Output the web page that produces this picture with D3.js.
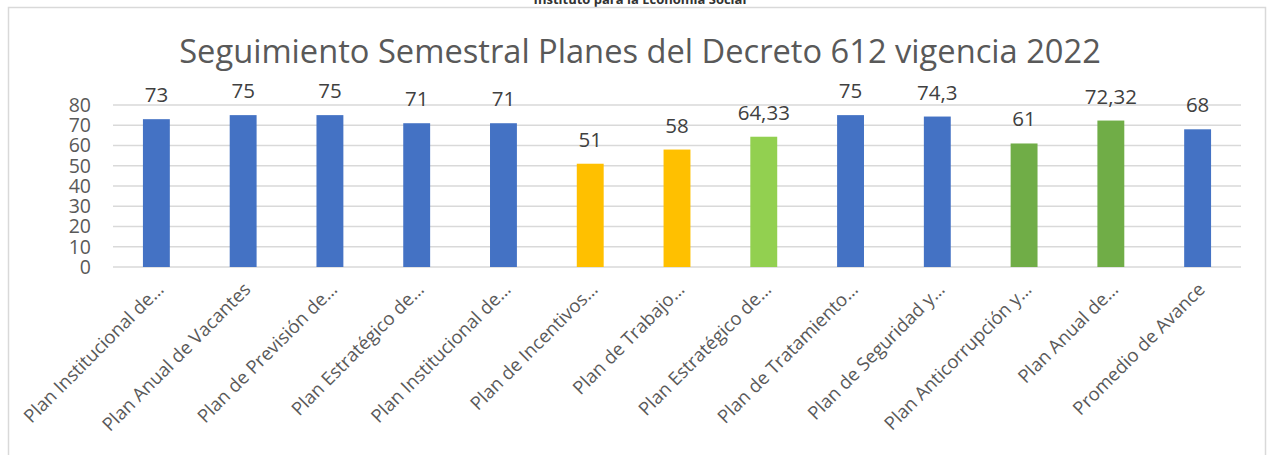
<!DOCTYPE html>
<html>
<head>
<meta charset="utf-8">
<script src="https://cdn.jsdelivr.net/npm/d3@7"></script>
<style>
  body { margin: 0; background: #fff; }
  svg { display: block; }
</style>
</head>
<body>
<svg id="chart" width="1273" height="455"></svg>
<script>
// data
var planes = [
  "Plan Institucional de…",
  "Plan Anual de Vacantes",
  "Plan de Previsión de…",
  "Plan Estratégico de…",
  "Plan Institucional de…",
  "Plan de Incentivos…",
  "Plan de Trabajo…",
  "Plan Estratégico de…",
  "Plan de Tratamiento…",
  "Plan de Seguridad y…",
  "Plan Anticorrupción y…",
  "Plan Anual de…",
  "Promedio de Avance"
];
var avance = [73, 75, 75, 71, 71, 51, 58, 64.33, 75, 74.3, 61, 72.32, 68];
var colores = ["#4472C4", "#4472C4", "#4472C4", "#4472C4", "#4472C4", "#FFC000", "#FFC000",
               "#92D050", "#4472C4", "#4472C4", "#70AD47", "#70AD47", "#4472C4"];
var yTicks = [0, 10, 20, 30, 40, 50, 60, 70, 80];
var titulo = "Seguimiento Semestral Planes del Decreto 612 vigencia 2022";

var svg = d3.select("#chart");
var font = "'Open Sans', sans-serif";

// clipped header of the page above the chart
svg.append("text")
  .attr("x", 640).attr("y", 4)
  .attr("text-anchor", "middle")
  .style("font-family", font).style("font-weight", "bold").style("font-size", "13px")
  .style("fill", "#333")
  .text("Instituto para la Economía Social");

// chart frame
svg.append("rect")
  .attr("x", 8.5).attr("y", 7.5).attr("width", 1257).attr("height", 470)
  .style("fill", "none").style("stroke", "#d9d9d9").style("stroke-width", 1.5);

var margin = { top: 105, left: 113 };
var contentWidth = 1241 - 113;
var contentHeight = 267 - 105;
var g = svg.append("g").attr("transform", "translate(" + margin.left + "," + margin.top + ")");

var xScale = d3.scaleBand()
  .domain(d3.range(planes.length))
  .range([0, contentWidth])
  .paddingInner(0.69).paddingOuter(0.345);

var yScale = d3.scaleLinear()
  .domain([0, 80])
  .range([contentHeight, 0]);

// gridlines
g.append("g")
  .selectAll("line")
  .data(yTicks)
  .enter().append("line")
  .attr("x1", 0).attr("x2", contentWidth)
  .attr("y1", d => yScale(d)).attr("y2", d => yScale(d))
  .style("stroke", "#d9d9d9").style("stroke-width", 1.5);

// y axis labels
var yAxis = g.append("g")
  .call(d3.axisLeft(yScale).tickValues(yTicks).tickSize(0).tickPadding(22));
yAxis.select(".domain").remove();
yAxis.selectAll("text")
  .style("font-family", font).style("font-size", "19.5px").style("fill", "#595959");

// bars
g.selectAll(".bar")
  .data(avance)
  .enter().append("rect")
  .attr("class", "bar")
  .attr("x", (d, i) => xScale(i))
  .attr("width", xScale.bandwidth())
  .attr("y", d => yScale(d))
  .attr("height", d => contentHeight - yScale(d))
  .style("fill", (d, i) => colores[i]);

// value labels
g.selectAll(".lbl")
  .data(avance)
  .enter().append("text")
  .attr("class", "lbl")
  .attr("x", (d, i) => xScale(i) + xScale.bandwidth() / 2)
  .attr("y", d => yScale(d) - 17)
  .attr("text-anchor", "middle")
  .style("font-family", font).style("font-size", "20.5px").style("fill", "#404040")
  .text(d => String(d).replace(".", ","));

// category labels
var xAxis = g.append("g")
  .attr("transform", "translate(0," + contentHeight + ")")
  .call(d3.axisBottom(xScale).tickSize(0).tickFormat(i => planes[i]));
xAxis.select(".domain").remove();
xAxis.selectAll("text")
  .attr("transform", "translate(4,19)rotate(-45)")
  .attr("dy", "0.35em").attr("y", 0)
  .style("text-anchor", "end")
  .style("font-family", font).style("font-size", "18.5px").style("fill", "#595959");

// title
var t = svg.append("text")
  .attr("x", 640).attr("y", 63)
  .attr("text-anchor", "middle")
  .style("font-family", font).style("font-size", "30px").style("fill", "#595959")
  .text(titulo);
var w = t.node().getComputedTextLength();
t.style("font-size", (30 * 922 / w) + "px");
</script>
</body>
</html>
